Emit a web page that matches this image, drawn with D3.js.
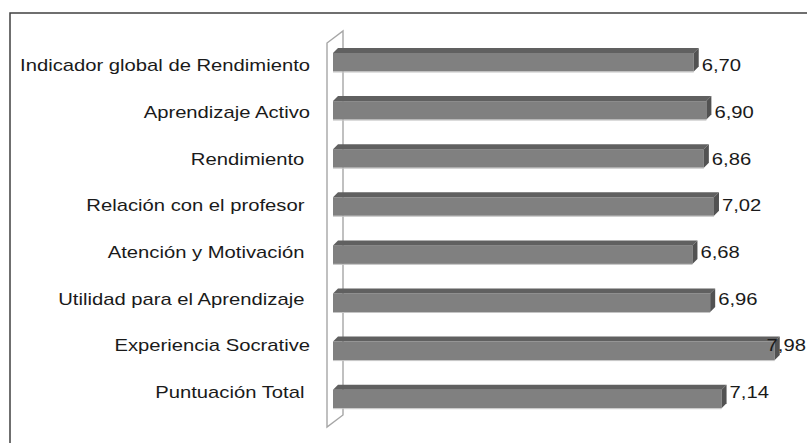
<!DOCTYPE html>
<html>
<head>
<meta charset="utf-8">
<script src="https://cdn.jsdelivr.net/npm/d3@7"></script>
<style>
  html, body { margin: 0; padding: 0; background: #fff; }
  svg { display: block; }
  text { font-family: "Liberation Sans", Arial, sans-serif; white-space: pre; }
</style>
</head>
<body>
<div id="chart"></div>
<script>
// Data
const categories = [
    'Indicador global de Rendimiento',
    'Aprendizaje Activo',
    'Rendimiento ',
    'Relación con el profesor ',
    'Atención y Motivación ',
    'Utilidad para el Aprendizaje ',
    'Experiencia Socrative',
    'Puntuación Total '
];
const values = [6.70, 6.90, 6.86, 7.02, 6.68, 6.96, 7.98, 7.14];
const valueLabels = values.map(v => v.toFixed(2).replace('.', ','));
const axisDomain = [1, 8];

const width = 807;
const height = 443;
const depthX = 5, depthY = 5;      // bar depth
const wallDX = 16, wallDY = 12;    // wall depth
const stretch = 1.19;              // horizontal text stretch in the source

const svg = d3.select('#chart')
    .append('svg')
    .attr('width', width)
    .attr('height', height);

// outer chart border (right / bottom edges fall outside the picture)
svg.append('rect')
    .attr('x', 10).attr('y', 13)
    .attr('width', 830).attr('height', 460)
    .attr('fill', 'none')
    .attr('stroke', '#404040')
    .attr('stroke-width', 1.5);

const x = d3.scaleLinear().domain(axisDomain).range([333, 776]);
const y = d3.scaleBand().domain(categories).range([53, 408.2]).paddingInner(0.615).paddingOuter(0);
const yLabel = d3.scalePoint().domain(categories).range([65, 392]);

// back wall (category axis plane)
const wx = x(axisDomain[0]) - 6;
const wTop = 43, wBot = 427;
const wall = svg.append('g')
    .attr('fill', 'none')
    .attr('stroke', '#a6a6a6')
    .attr('stroke-width', 1.4);
wall.append('path')
    .attr('d', `M${wx},${wBot} L${wx},${wTop} L${wx + wallDX},${wTop - wallDY} L${wx + wallDX},${wBot - wallDY} Z`);

// bars
const bars = svg.append('g')
    .selectAll('g')
    .data(categories)
    .join('g');

bars.append('rect')
    .attr('x', x(axisDomain[0]))
    .attr('y', d => y(d))
    .attr('width', (d, i) => x(values[i]) - x(axisDomain[0]))
    .attr('height', y.bandwidth())
    .attr('fill', '#808080');

bars.append('line')
    .attr('x1', x(axisDomain[0]))
    .attr('x2', (d, i) => x(values[i]))
    .attr('y1', d => y(d) + y.bandwidth() + 0.5)
    .attr('y2', d => y(d) + y.bandwidth() + 0.5)
    .attr('stroke', '#c4c4c4')
    .attr('stroke-width', 1);

bars.append('path')
    .attr('fill', '#606060')
    .attr('d', (d, i) => {
        const x0 = x(axisDomain[0]), x1 = x(values[i]), t = y(d);
        return `M${x0},${t} L${x0 + depthX},${t - depthY} L${x1 + depthX},${t - depthY} L${x1},${t} Z`;
    });

bars.append('path')
    .attr('fill', '#525252')
    .attr('d', (d, i) => {
        const x1 = x(values[i]), t = y(d), b = y(d) + y.bandwidth();
        return `M${x1},${t} L${x1 + depthX},${t - depthY} L${x1 + depthX},${b - depthY} L${x1},${b} Z`;
    });

// category labels
svg.append('g')
    .selectAll('text')
    .data(categories)
    .join('text')
    .attr('transform', d => `translate(310,${yLabel(d)}) scale(${stretch},1)`)
    .attr('text-anchor', 'end')
    .attr('dy', '0.36em')
    .attr('font-size', 17)
    .attr('fill', '#1a1a1a')
    .text(d => d);

// value labels
svg.append('g')
    .selectAll('text')
    .data(categories)
    .join('text')
    .attr('font-size', 17)
    .attr('dy', '0.36em')
    .attr('fill', '#1a1a1a')
    .text((d, i) => valueLabels[i])
    .each(function (d, i) {
        const w = this.getComputedTextLength() * stretch;
        const lx = Math.min(x(values[i]) + depthX + 3, width - 1 - w);
        d3.select(this).attr('transform', `translate(${lx},${yLabel(d)}) scale(${stretch},1)`);
    });
</script>
</body>
</html>
